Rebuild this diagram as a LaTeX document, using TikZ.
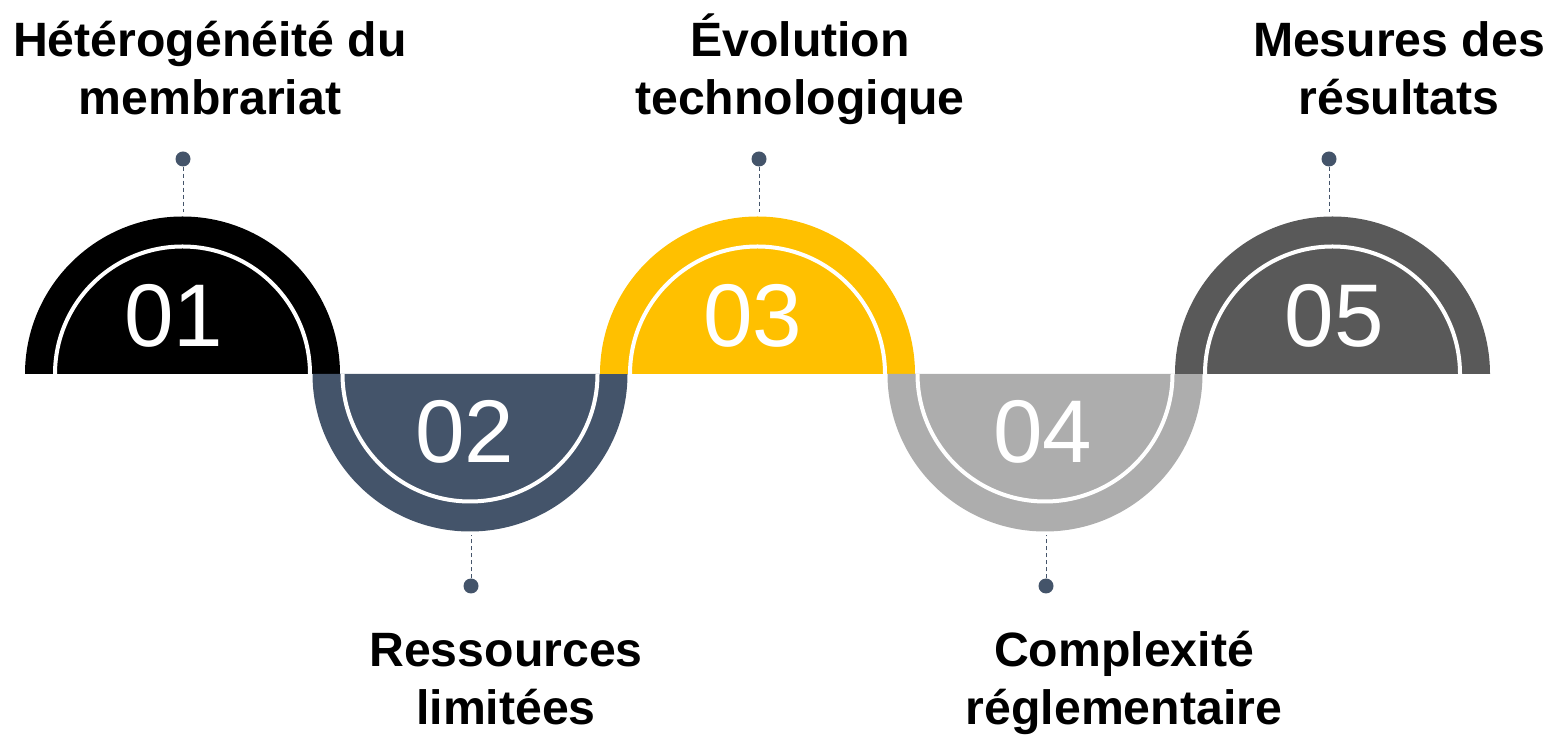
\documentclass[tikz,border=0pt]{standalone}
\usepackage{fontspec}
\setmainfont{Liberation Sans}
\definecolor{cone}{HTML}{000000}
\definecolor{ctwo}{HTML}{44546A}
\definecolor{cthree}{HTML}{FFC000}
\definecolor{cfour}{HTML}{ADADAD}
\definecolor{cfive}{HTML}{595959}
\definecolor{dotcol}{HTML}{44546A}
\begin{document}
\begin{tikzpicture}[x=1pt,y=1pt,
  ringline/.style={white,line width=4pt},
  numtext/.style={text=white,font=\fontsize{89}{89}\selectfont,anchor=base,inner sep=0pt},
  labeltext/.style={font=\fontsize{48.2}{58}\selectfont\bfseries,align=center,anchor=base,inner sep=0pt},
  dotnode/.style={circle,fill=dotcol,minimum size=15pt,inner sep=0pt},
  dashline/.style={draw=dotcol,line width=1pt,dash pattern=on 4pt off 3pt}]
\useasboundingbox (0,0) rectangle (1550,736);
% semicircles
\def\R{157.5}\def\r{127.5}
\fill[cone] (182.5-\R,362) arc[start angle=180,end angle=0,radius=\R] -- cycle;
\draw[ringline] (182.5-\r,362) arc[start angle=180,end angle=0,radius=\r];
\fill[ctwo] (470-\R,362) arc[start angle=180,end angle=360,radius=\R] -- cycle;
\draw[ringline] (470-\r,362) arc[start angle=180,end angle=360,radius=\r];
\fill[cthree] (757.5-\R,362) arc[start angle=180,end angle=0,radius=\R] -- cycle;
\draw[ringline] (757.5-\r,362) arc[start angle=180,end angle=0,radius=\r];
\fill[cfour] (1045-\R,362) arc[start angle=180,end angle=360,radius=\R] -- cycle;
\draw[ringline] (1045-\r,362) arc[start angle=180,end angle=360,radius=\r];
\fill[cfive] (1332.5-\R,362) arc[start angle=180,end angle=0,radius=\R] -- cycle;
\draw[ringline] (1332.5-\r,362) arc[start angle=180,end angle=0,radius=\r];
% numbers
\node[numtext] (n1) at (174,389) {01};
\node[numtext] (n2) at (465,273) {02};
\node[numtext] (n3) at (753,389) {03};
\node[numtext] (n4) at (1043,273) {04};
\node[numtext] (n5) at (1334,389) {05};
% dots and dashed connectors
\node[dotnode] (d1) at (183,577) {};
\node[dotnode] (d2) at (471,150) {};
\node[dotnode] (d3) at (759,577) {};
\node[dotnode] (d4) at (1046,150) {};
\node[dotnode] (d5) at (1329,577) {};
\coordinate (t1) at (183,524);
\coordinate (t2) at (471,201);
\coordinate (t3) at (759,524);
\coordinate (t4) at (1046,201);
\coordinate (t5) at (1329,524);
\draw[dashline] (d1) -- (t1);
\draw[dashline] (d2) -- (t2);
\draw[dashline] (d3) -- (t3);
\draw[dashline] (d4) -- (t4);
\draw[dashline] (d5) -- (t5);
% labels (anchor = baseline of last line)
\node[labeltext] (l1) at (210,621) {Hétérogénéité du\\membrariat};
\node[labeltext] (l2) at (506,11) {Ressources\\limitées};
\node[labeltext] (l3) at (800,621) {Évolution\\technologique};
\node[labeltext] (l4) at (1124,11) {Complexité\\réglementaire};
\node[labeltext] (l5) at (1399,621) {Mesures des\\résultats};
\end{tikzpicture}
\end{document}
